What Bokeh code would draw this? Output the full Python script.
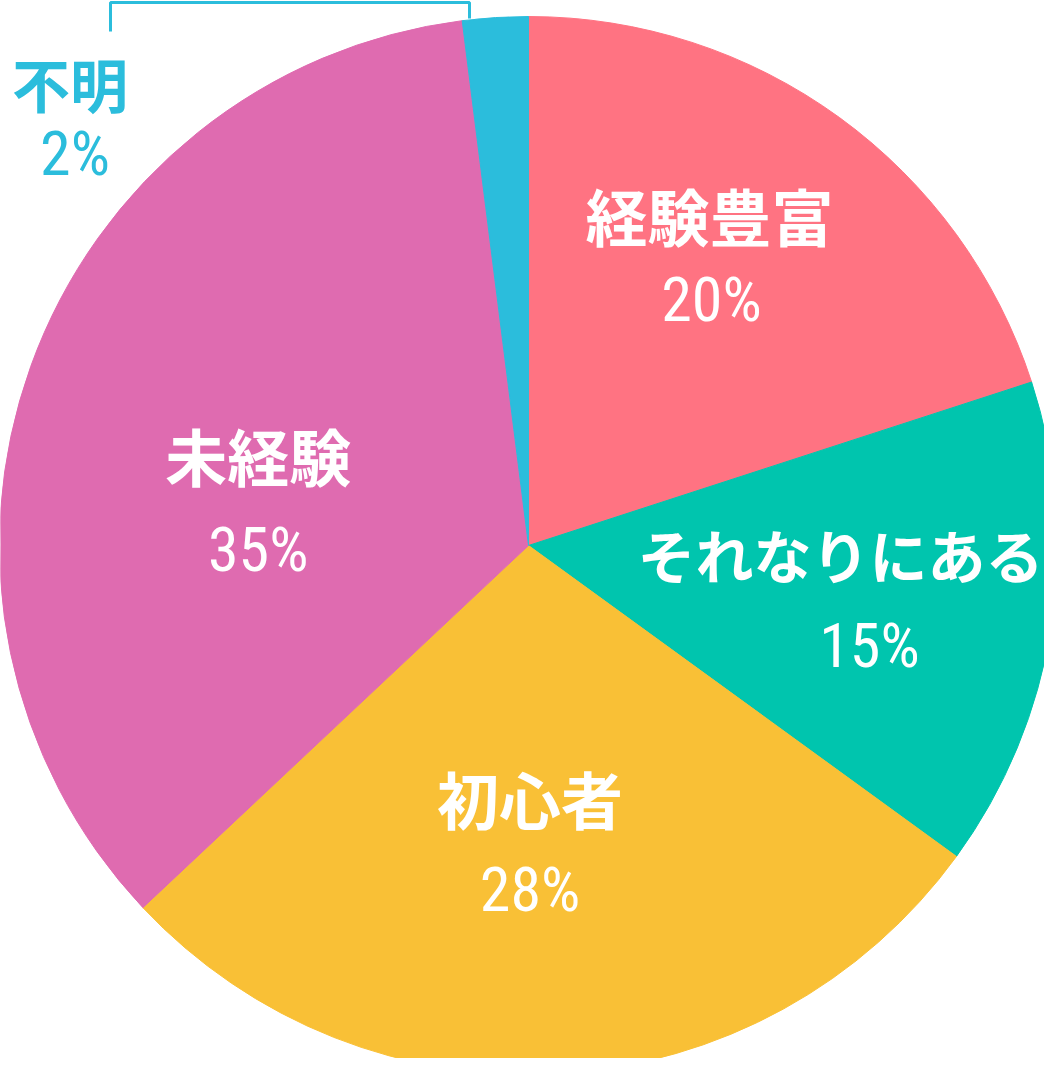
import math
import subprocess
from bokeh.plotting import figure
from bokeh.models import Range1d, ColumnDataSource
from bokeh.core.properties import value
from bokeh.embed import file_html
from bokeh.resources import INLINE

# ---- data ----
categories = ["経験豊富", "それなりにある", "初心者", "未経験", "不明"]
percents = [20, 15, 28, 35, 2]
colors = ["#FF7382", "#00C5AE", "#F9C036", "#DF6BB0", "#2BBDDC"]

# ---- layout (pixel space; y is negated) ----
W, H = 1044, 1058
CX, CY, R = 528, 545, 529
# label anchor: (radius fraction, angle nudge deg clockwise from top)
label_pos = [(0.642, -3.6), (0.627, 0.72), (0.567, 3.3), (0.517, -11.0), (1.18, -43.4)]
label_gap = [37.5, 41, 41, 43, 30.5]
name_dx = [-1, -15, 0, 0, -2]
pct_dx = [1, 14, 0, 0, 3]
name_size = ["62px", "58px", "62px", "62px", "58px"]
bracket_x = [110, 110, 469, 469]
bracket_y = [31, 2, 2, 18]


def families():
    try:
        out = subprocess.run(["fc-list", ":", "family"], capture_output=True,
                             text=True, timeout=20).stdout
    except Exception:
        return set()
    fams = set()
    for line in out.splitlines():
        for f in line.split(","):
            fams.add(f.strip())
    return fams


fams = families()
pct_font, pct_size = "Roboto", "56px"
for cand, size in [("Roboto Condensed", "62px"), ("DejaVu Sans Condensed", "56px"),
                   ("Liberation Sans Narrow", "62px"), ("Open Sans Condensed", "62px"),
                   ("Noto Sans Condensed", "62px")]:
    if cand in fams:
        pct_font, pct_size = cand, size
        break
jp_font, jp_style = "Noto Sans CJK JP", "bold"

p = figure(width=W, height=H, output_backend="svg", toolbar_location=None,
           x_range=Range1d(0, W), y_range=Range1d(-H, 0),
           min_border=0, outline_line_color=None, background_fill_color="white",
           border_fill_color="white")
p.axis.visible = False
p.grid.visible = False

total = sum(percents)
starts, ends, mids = [], [], []
cum = 0.0
for v in percents:
    a0 = cum / total
    cum += v
    a1 = cum / total
    starts.append(math.pi / 2 - 2 * math.pi * a0)
    ends.append(math.pi / 2 - 2 * math.pi * a1)
    mids.append(360 * (a0 + a1) / 2)

src = ColumnDataSource(dict(x=[CX] * len(percents), y=[-CY] * len(percents),
                            start=starts, end=ends, color=colors))
p.wedge(x="x", y="y", radius=R, start_angle="start", end_angle="end",
        direction="clock", fill_color="color", line_color="color", line_width=1,
        source=src)

# leader bracket for the small slice
p.line(x=bracket_x, y=[-b for b in bracket_y], line_color=colors[4], line_width=3)

for i, (cat, v) in enumerate(zip(categories, percents)):
    rf, nud = label_pos[i]
    th = math.radians(mids[i] + nud)
    lx = CX + rf * R * math.sin(th)
    ly = CY - rf * R * math.cos(th)
    col = colors[i] if rf > 1 else "white"
    p.text(x=[lx + name_dx[i]], y=[-(ly - label_gap[i] - 6)], text=[cat],
           text_color=col, text_align="center", text_baseline="middle",
           text_font=value(jp_font), text_font_size=name_size[i],
           text_font_style=jp_style)
    p.text(x=[lx + pct_dx[i]], y=[-(ly + label_gap[i] + 3)], text=[f"{v}%"],
           text_color=col, text_align="center", text_baseline="middle",
           text_font=value(pct_font), text_font_size=pct_size,
           text_font_style="normal")

open("out.html", "w").write(file_html(p, INLINE))
